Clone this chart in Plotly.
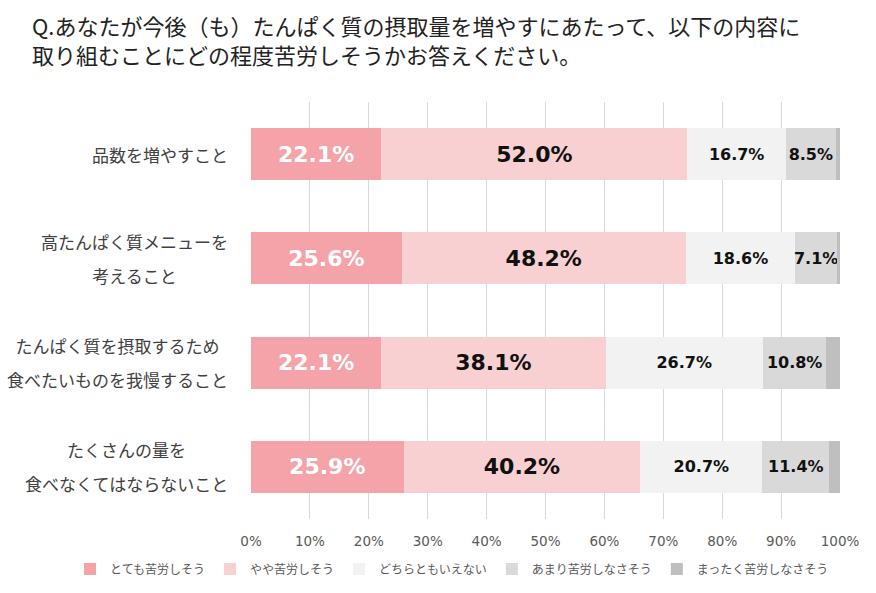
import plotly.graph_objects as go

categories = [
    "品数を増やすこと",
    "高たんぱく質メニューを<br>考えること",
    "たんぱく質を摂取するため<br>食べたいものを我慢すること",
    "たくさんの量を<br>食べなくてはならないこと",
]
series_names = ["とても苦労しそう", "やや苦労しそう", "どちらともいえない", "あまり苦労しなさそう", "まったく苦労しなさそう"]
very_hard = [22.1, 25.6, 22.1, 25.9]
somewhat_hard = [52.0, 48.2, 38.1, 40.2]
neutral = [16.7, 18.6, 26.7, 20.7]
not_very_hard = [8.5, 7.1, 10.8, 11.4]
not_hard_at_all = [0.7, 0.5, 2.3, 1.8]
x_ticks = [0, 10, 20, 30, 40, 50, 60, 70, 80, 90, 100]
title_lines = [
    "Q.あなたが今後（も）たんぱく質の摂取量を増やすにあたって、以下の内容に",
    "取り組むことにどの程度苦労しそうかお答えください。",
]

values = [very_hard, somewhat_hard, neutral, not_very_hard, not_hard_at_all]
colors = ["#F4A3A8", "#F9D0D2", "#F2F2F2", "#D9D9D9", "#BFBFBF"]
label_fonts = [
    dict(family="DejaVu Sans", size=22, color="#FFFFFF", weight="bold"),
    dict(family="DejaVu Sans", size=22, color="#111111", weight="bold"),
    dict(family="DejaVu Sans", size=16, color="#111111", weight="bold"),
    dict(family="DejaVu Sans", size=16, color="#111111", weight="bold"),
    None,
]

W, H = 876, 593
ML, MR, MT, MB = 251, 36, 102, 74
PW, PH = W - ML - MR, H - MT - MB

fig = go.Figure()
for name, vals, col, tf in zip(series_names, values, colors, label_fonts):
    fig.add_trace(go.Bar(
        name=name,
        y=categories,
        x=[v / 100 for v in vals],
        orientation="h",
        marker=dict(color=col, line=dict(width=0)),
        text=[f"{v:.1f}%" for v in vals] if tf else None,
        textposition="inside" if tf else "none",
        insidetextanchor="middle",
        textangle=0,
        constraintext="none",
        textfont=tf if tf else None,
        hoverinfo="skip",
    ))

annotations = []
for cat in categories:
    lines = cat.split("<br>")
    if len(lines) == 1:
        txt = cat
        fsize = 17
    else:
        txt = "<br>".join(f"<span style='font-size:17px'>{l}</span>" for l in lines)
        fsize = 26
    annotations.append(dict(
        xref="paper", yref="y", x=0, y=cat, xshift=-21,
        xanchor="right", yanchor="middle", align="center",
        text=txt, showarrow=False,
        font=dict(family="Noto Sans CJK JP", size=fsize, color="#404040"),
    ))

for line, py in zip(title_lines, [25, 54]):
    annotations.append(dict(
        xref="paper", yref="paper",
        x=(30 - ML) / PW, y=(H - MB - py) / PH,
        xanchor="left", yanchor="middle",
        text=line, showarrow=False,
        font=dict(family="Noto Sans CJK JP", size=22, color="#222222"),
    ))

fig.update_layout(
    width=W, height=H,
    barmode="stack",
    bargap=0.5,
    plot_bgcolor="white",
    paper_bgcolor="white",
    margin=dict(l=ML, r=MR, t=MT, b=MB, autoexpand=False),
    xaxis=dict(
        range=[0, 1],
        tickvals=[t / 100 for t in x_ticks],
        ticktext=[f"{t}%" for t in x_ticks],
        showgrid=True, gridcolor="#D9D9D9", gridwidth=1,
        zeroline=False, showline=False, ticks="",
        ticklabelstandoff=12,
        tickfont=dict(family="DejaVu Sans", size=13.5, color="#595959"),
    ),
    yaxis=dict(
        autorange="reversed",
        showticklabels=False, showgrid=False, zeroline=False, showline=False,
    ),
    legend=dict(
        orientation="h",
        xref="paper", yref="paper",
        x=(70 - ML) / PW, y=(H - MB - 569) / PH,
        xanchor="left", yanchor="middle",
        font=dict(family="Noto Sans CJK JP", size=12, color="#595959"),
        traceorder="normal",
        itemwidth=30,
        bgcolor="rgba(0,0,0,0)",
    ),
    annotations=annotations,
    showlegend=True,
)

fig.write_html(
    "out.html",
    config={"displayModeBar": False},
    post_script="document.body.style.margin='0';",
)
